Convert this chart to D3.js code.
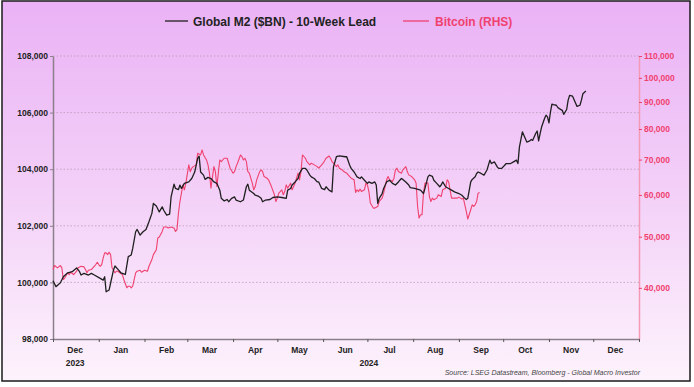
<!DOCTYPE html>
<html>
<head>
<meta charset="utf-8">
<script src="https://cdn.jsdelivr.net/npm/d3@7"></script>
<style>
  body { margin: 0; background: #fff; }
  svg { display: block; font-family: "Liberation Sans", Arial, sans-serif; }
</style>
</head>
<body>
<div id="chart"></div>
<script>
// Global M2 ($BN) - 10-week lead, dates already shifted
const m2Dates = ["2023-12-01","2023-12-03","2023-12-06","2023-12-08","2023-12-11","2023-12-14","2023-12-17","2023-12-19","2023-12-20","2023-12-22","2023-12-25","2023-12-27","2023-12-29",
  "2024-01-02","2024-01-04","2024-01-05","2024-01-06","2024-01-08","2024-01-09","2024-01-11","2024-01-12","2024-01-14","2024-01-16","2024-01-19","2024-01-21","2024-01-23","2024-01-24","2024-01-26","2024-01-27","2024-01-29","2024-01-31",
  "2024-02-02","2024-02-04","2024-02-06","2024-02-07","2024-02-09","2024-02-11","2024-02-13","2024-02-14","2024-02-16","2024-02-18","2024-02-19","2024-02-21","2024-02-22","2024-02-24","2024-02-25","2024-02-26","2024-02-28",
  "2024-03-02","2024-03-04","2024-03-06","2024-03-08","2024-03-09","2024-03-10","2024-03-12","2024-03-13","2024-03-15","2024-03-17","2024-03-19","2024-03-21","2024-03-23","2024-03-24","2024-03-26","2024-03-28","2024-03-29","2024-03-31",
  "2024-04-02","2024-04-03","2024-04-06","2024-04-08","2024-04-10","2024-04-11","2024-04-12","2024-04-15","2024-04-16","2024-04-18","2024-04-20","2024-04-21","2024-04-23","2024-04-26","2024-04-28",
  "2024-05-01","2024-05-04","2024-05-07","2024-05-08","2024-05-10","2024-05-11","2024-05-13","2024-05-15","2024-05-16","2024-05-18","2024-05-20","2024-05-21","2024-05-23","2024-05-24","2024-05-26","2024-05-28","2024-05-29","2024-05-31",
  "2024-06-02","2024-06-03","2024-06-05","2024-06-07","2024-06-08","2024-06-10","2024-06-12","2024-06-16","2024-06-17","2024-06-19","2024-06-20","2024-06-22","2024-06-24","2024-06-26","2024-06-27","2024-06-29",
  "2024-07-01","2024-07-02","2024-07-04","2024-07-06","2024-07-07","2024-07-08","2024-07-09","2024-07-11","2024-07-12","2024-07-14","2024-07-16","2024-07-18","2024-07-20","2024-07-22","2024-07-24","2024-07-25","2024-07-27","2024-07-29","2024-07-30",
  "2024-08-02","2024-08-06","2024-08-08","2024-08-09","2024-08-11","2024-08-12","2024-08-14","2024-08-15","2024-08-17","2024-08-19","2024-08-20","2024-08-21","2024-08-23","2024-08-25","2024-08-27","2024-08-29",
  "2024-09-01","2024-09-03","2024-09-05","2024-09-06","2024-09-07","2024-09-09","2024-09-10","2024-09-12","2024-09-13","2024-09-14","2024-09-16","2024-09-18","2024-09-20","2024-09-22","2024-09-23","2024-09-25","2024-09-27","2024-09-28","2024-09-30",
  "2024-10-02","2024-10-03","2024-10-06","2024-10-08","2024-10-10","2024-10-11","2024-10-12","2024-10-14","2024-10-15","2024-10-17","2024-10-19","2024-10-20","2024-10-21","2024-10-23","2024-10-24","2024-10-25","2024-10-26","2024-10-27","2024-10-29","2024-10-30","2024-10-31",
  "2024-11-01","2024-11-02","2024-11-03","2024-11-04","2024-11-06","2024-11-07","2024-11-08","2024-11-10","2024-11-11","2024-11-13","2024-11-14","2024-11-15","2024-11-17","2024-11-19","2024-11-20","2024-11-22","2024-11-23","2024-11-24","2024-11-26"];
const m2Values = [100060,99850,99990,100200,100340,100380,100510,100380,100260,100320,100260,100320,100260,
  100140,100080,100200,99670,99730,99970,100440,100580,100460,100340,100280,100910,100970,101200,101790,101870,101670,101790,
  101870,102140,102440,102790,102700,102490,102670,102550,102380,102410,103020,103470,103320,103280,103440,103320,103500,
  103550,103670,103900,104380,104460,103900,103790,103640,103710,103670,103550,103500,103260,102970,102880,102930,102850,102970,
  103020,102910,102850,102910,103380,103470,103260,103140,103080,103050,102970,102850,102910,102930,103000,
  103020,103000,102970,103260,103320,103440,103550,103670,103850,104030,104030,103970,103790,103730,103670,103550,103550,103320,
  103280,103380,103260,103200,104080,104440,104470,104440,104440,104140,104030,103900,103730,103670,103730,103610,
  103500,103550,103500,103550,103440,102790,102970,103140,103320,103550,103610,103500,103440,103550,103670,103640,103550,103440,103350,
  103320,103260,103140,103320,103730,103790,103750,103610,103500,103380,103440,103550,103380,103320,103260,103200,
  103140,103080,102970,102930,102970,103550,103640,103730,103850,103900,103850,103790,103970,104320,104200,104260,104080,104030,104030,
  104140,104200,104200,104260,104320,104200,104790,105320,105200,104960,105000,105050,105020,105260,105350,105000,105260,105490,105790,105910,105850,
  105640,106020,106300,106280,106260,106180,106140,106080,105940,106110,106440,106610,106580,106340,106220,106260,106440,106670,106760];

// Bitcoin (RHS)
const btcDates = ["2023-12-01","2023-12-02","2023-12-04","2023-12-06","2023-12-07","2023-12-08","2023-12-09","2023-12-11","2023-12-12","2023-12-13","2023-12-15","2023-12-17","2023-12-18","2023-12-20","2023-12-22","2023-12-23","2023-12-24","2023-12-25","2023-12-27","2023-12-28","2023-12-30","2023-12-31",
  "2024-01-01","2024-01-02","2024-01-03","2024-01-04","2024-01-05","2024-01-06","2024-01-07","2024-01-08","2024-01-09","2024-01-10","2024-01-12","2024-01-13","2024-01-14","2024-01-16","2024-01-17","2024-01-18","2024-01-20","2024-01-21","2024-01-22","2024-01-23","2024-01-24","2024-01-26","2024-01-27","2024-01-29","2024-01-30",
  "2024-02-01","2024-02-03","2024-02-04","2024-02-06","2024-02-07","2024-02-09","2024-02-10","2024-02-11","2024-02-13","2024-02-14","2024-02-16","2024-02-17","2024-02-19","2024-02-21","2024-02-22","2024-02-23","2024-02-24","2024-02-25","2024-02-27","2024-02-28","2024-02-29",
  "2024-03-02","2024-03-03","2024-03-04","2024-03-05","2024-03-07","2024-03-08","2024-03-10","2024-03-11","2024-03-12","2024-03-14","2024-03-15","2024-03-16","2024-03-17","2024-03-19","2024-03-20","2024-03-21","2024-03-22","2024-03-23","2024-03-24","2024-03-26","2024-03-28","2024-03-29","2024-03-30",
  "2024-04-01","2024-04-02","2024-04-03","2024-04-04","2024-04-06","2024-04-07","2024-04-08","2024-04-09","2024-04-10","2024-04-11","2024-04-12","2024-04-14","2024-04-15","2024-04-16","2024-04-17","2024-04-19","2024-04-20","2024-04-21","2024-04-22","2024-04-24","2024-04-25","2024-04-27","2024-04-29","2024-04-30",
  "2024-05-01","2024-05-02","2024-05-04","2024-05-05","2024-05-06","2024-05-07","2024-05-08","2024-05-10","2024-05-11","2024-05-13","2024-05-15","2024-05-16","2024-05-17","2024-05-18","2024-05-20","2024-05-21","2024-05-23","2024-05-24","2024-05-26","2024-05-28","2024-05-29","2024-05-31",
  "2024-06-01","2024-06-03","2024-06-05","2024-06-06","2024-06-07","2024-06-08","2024-06-10","2024-06-11","2024-06-12","2024-06-14","2024-06-15","2024-06-17","2024-06-19","2024-06-20","2024-06-22","2024-06-23","2024-06-24","2024-06-25","2024-06-26","2024-06-27","2024-06-29","2024-06-30",
  "2024-07-01","2024-07-02","2024-07-03","2024-07-05","2024-07-06","2024-07-08","2024-07-09","2024-07-11","2024-07-12","2024-07-14","2024-07-15","2024-07-16","2024-07-18","2024-07-19","2024-07-20","2024-07-21","2024-07-22","2024-07-24","2024-07-25","2024-07-27","2024-07-28","2024-07-29","2024-07-31",
  "2024-08-02","2024-08-03","2024-08-04","2024-08-05","2024-08-06","2024-08-07","2024-08-08","2024-08-09","2024-08-11","2024-08-12","2024-08-13","2024-08-14","2024-08-15","2024-08-17","2024-08-18","2024-08-20","2024-08-21","2024-08-23","2024-08-24","2024-08-25","2024-08-26","2024-08-27","2024-08-29","2024-08-31",
  "2024-09-01","2024-09-03","2024-09-04","2024-09-05","2024-09-06","2024-09-07","2024-09-09","2024-09-10","2024-09-11","2024-09-12","2024-09-13","2024-09-14","2024-09-15"];
const btcValues = [43330,44090,43650,44090,43650,41480,41790,42710,42390,42820,42390,43010,43650,43950,43830,43330,42710,43200,43330,43650,44280,44730,
  44280,43950,44280,45590,46590,46590,46240,46710,46240,43650,42710,43010,43010,42580,42390,41480,40010,40290,40290,40010,40290,42710,43010,43200,42820,
  43200,43010,43950,45250,46240,47250,49730,49940,51170,52160,52160,51940,52160,51940,51170,51560,55440,58300,62690,61350,63160,
  68400,66430,67420,67890,68400,71960,71430,73000,71430,69890,68400,65970,61800,67890,66430,62230,65970,69890,69380,70410,70410,68900,67420,
  65970,66430,67890,68900,71430,70910,69890,70410,69380,66430,65970,63160,61350,62230,64080,66430,66920,66430,65000,64550,64080,62230,60030,58300,
  59170,60470,61350,60030,60890,62690,61800,63160,61350,63160,65970,64080,66430,71430,70410,69380,68400,68900,68400,67890,67420,68400,
  68900,70410,71120,70410,69380,68900,67890,68400,67420,66920,66430,65970,65000,64550,64080,60630,61350,60890,61530,60890,61350,63160,
  62690,60890,57900,56650,56650,57050,58300,59170,60470,64080,65000,64080,63600,64550,66920,67420,66430,65970,66920,67890,66430,65480,65000,
  64080,63160,57050,54240,55030,55030,60470,63160,63160,59580,58300,59170,58740,59170,60030,59580,61350,61800,64080,63600,61350,59170,59170,59170,
  59430,58910,59170,57470,55830,54010,56240,57470,57050,57470,58300,60470,60630];

// axis labels
const leftTicks = [98000,100000,102000,104000,106000,108000];
const rightTicks = [40000,50000,60000,70000,80000,90000,100000,110000];
const monthLabels = ["Dec","Jan","Feb","Mar","Apr","May","Jun","Jul","Aug","Sep","Oct","Nov","Dec"];
const yearLabels = ["2023","2024"];

const w = 694, h = 387;
const plotL = 53, plotR = 639, plotT = 56, plotB = 339;
const PINK = "#f0416f";

const parse = d3.timeParse("%Y-%m-%d");
const m2 = m2Dates.map((d, i) => ({ date: parse(d), v: m2Values[i] }));
const btc = btcDates.map((d, i) => ({ date: parse(d), v: btcValues[i] }));

const svg = d3.select("#chart").append("svg").attr("width", w).attr("height", h);

/* fondo con degradado */
const grad = svg.append("defs").append("linearGradient")
  .attr("id", "bg").attr("x1", 0).attr("y1", 0).attr("x2", 0).attr("y2", 1);
grad.append("stop").attr("offset", "0%").attr("stop-color", "#eab2f5");
grad.append("stop").attr("offset", "55%").attr("stop-color", "#f4d3f8");
grad.append("stop").attr("offset", "100%").attr("stop-color", "#fdf3fc");

svg.append("rect")
  .attr("x", 2).attr("y", 1).attr("width", 688).attr("height", 380)
  .attr("fill", "url(#bg)").attr("stroke", "#1a1a1a").attr("stroke-width", 1.5);

/* escalas */
const x = d3.scaleTime()
  .domain([parse("2023-12-01"), parse("2025-01-01")])
  .range([plotL, plotR]);
const yL = d3.scaleLinear().domain([98000, 108000]).range([plotB, plotT]);
const yR = d3.scaleLog().domain([32000, 110000]).range([plotB, plotT]);

/* grid */
svg.append("g").selectAll("line")
  .data(leftTicks.slice(1))
  .enter().append("line")
  .attr("x1", plotL).attr("x2", plotR)
  .attr("y1", d => yL(d)).attr("y2", d => yL(d))
  .attr("stroke", "#b99ab9").attr("stroke-width", 0.8)
  .attr("stroke-dasharray", "1.5,2");

/* ejes */
const axisL = svg.append("g")
  .attr("transform", `translate(${plotL},0)`)
  .call(d3.axisLeft(yL).tickValues(leftTicks).tickFormat(d3.format(",")).tickSize(3).tickSizeOuter(0));
axisL.select(".domain").attr("stroke", "#8a7f8a").attr("stroke-width", 1.5);
axisL.selectAll(".tick line").attr("stroke", "#8a7f8a");
axisL.selectAll("text").attr("font-size", 8.5).attr("font-weight", "bold").attr("fill", "#222").attr("x", -5);

const axisR = svg.append("g")
  .attr("transform", `translate(${plotR},0)`)
  .call(d3.axisRight(yR).tickValues(rightTicks).tickFormat(d3.format(",")).tickSize(3).tickSizeOuter(0));
axisR.select(".domain").attr("stroke", "#f49ab6").attr("stroke-width", 1.5);
axisR.selectAll(".tick line").attr("stroke", PINK);
axisR.selectAll("text").attr("font-size", 8.5).attr("font-weight", "bold").attr("fill", PINK).attr("x", 5);

const monthStarts = d3.timeMonth.range(parse("2023-12-01"), parse("2025-01-02"));
const axisB = svg.append("g")
  .attr("transform", `translate(0,${plotB})`)
  .call(d3.axisBottom(x).tickValues(monthStarts).tickFormat("").tickSize(3).tickSizeOuter(0));
axisB.select(".domain").attr("stroke", "#8a7f8a").attr("stroke-width", 1.5);
axisB.selectAll(".tick line").attr("stroke", "#555");

const midMonths = monthStarts.slice(0, -1).map(d => d3.timeDay.offset(d, 15));
svg.append("g").selectAll("text")
  .data(midMonths)
  .enter().append("text")
  .attr("x", d => x(d)).attr("y", 353)
  .attr("text-anchor", "middle")
  .attr("font-size", 8.5).attr("font-weight", "bold").attr("fill", "#222")
  .text((d, i) => monthLabels[i]);

const yearMid = [
  d3.timeDay.offset(parse("2023-12-01"), 15),
  new Date((parse("2024-01-01").getTime() + parse("2025-01-01").getTime()) / 2)
];
svg.append("g").selectAll("text")
  .data(yearMid)
  .enter().append("text")
  .attr("x", d => x(d)).attr("y", 366)
  .attr("text-anchor", "middle")
  .attr("font-size", 8.5).attr("font-weight", "bold").attr("fill", "#222")
  .text((d, i) => yearLabels[i]);

/* lineas */
svg.append("path")
  .datum(btc)
  .attr("fill", "none").attr("stroke", PINK).attr("stroke-width", 1.1)
  .attr("stroke-linejoin", "round")
  .attr("d", d3.line().x(d => x(d.date)).y(d => yR(d.v)));

svg.append("path")
  .datum(m2)
  .attr("fill", "none").attr("stroke", "#1f1f1f").attr("stroke-width", 1.3)
  .attr("stroke-linejoin", "round")
  .attr("d", d3.line().x(d => x(d.date)).y(d => yL(d.v)));

/* leyenda */
const legend = svg.append("g").attr("font-size", 12).attr("font-weight", "bold");
legend.append("line").attr("x1", 165).attr("x2", 188).attr("y1", 21).attr("y2", 21)
  .attr("stroke", "#1f1f1f").attr("stroke-width", 1.3);
legend.append("text").attr("x", 193).attr("y", 25.5).attr("fill", "#222")
  .text("Global M2 ($BN) - 10-Week Lead");
legend.append("line").attr("x1", 403).attr("x2", 429).attr("y1", 21).attr("y2", 21)
  .attr("stroke", PINK).attr("stroke-width", 1.3);
legend.append("text").attr("x", 435).attr("y", 25.5).attr("fill", PINK)
  .text("Bitcoin (RHS)");

/* fuente */
svg.append("text")
  .attr("x", 640).attr("y", 375)
  .attr("text-anchor", "end")
  .attr("font-size", 7).attr("font-style", "italic").attr("fill", "#444")
  .text("Source: LSEG Datastream, Bloomberg - Global Macro Investor");
</script>
</body>
</html>
